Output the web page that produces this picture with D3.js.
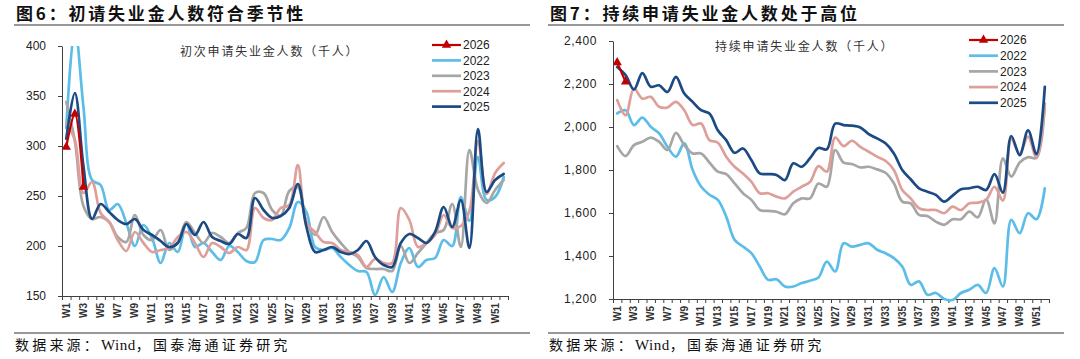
<!DOCTYPE html>
<html><head><meta charset="utf-8">
<script src="https://cdn.jsdelivr.net/npm/d3@7"></script>
<style>
body{margin:0;background:#fff}
svg{display:block}
</style>
</head><body>
<svg id="c" width="1080" height="359"></svg>
<script>
// ---------- DATA ----------
const weeks = d3.range(1, 53).map(i => "W" + i);
const weekTickLabels = weeks.filter((w, i) => i % 2 === 0);
const seriesNames = ["2026", "2022", "2023", "2024", "2025"];

// Chart 1: initial claims (thousand)
const initial2022 = [318,418,339,266,261,236,242,223,200,221,208,183,203,194,223,199,203,194,186,200,194,185,184,206,207,206,218,244,234,199,196,198,189,181,175,174,151,169,154,183,198,179,186,188,206,200,249,225,289,246,249,269];
const initial2023 = [344,305,240,227,229,224,209,204,231,211,206,216,196,204,224,213,203,213,209,203,213,218,253,253,236,230,255,259,224,211,229,214,203,194,189,178,177,177,175,200,183,193,203,213,216,242,199,296,256,243,256,266];
const initial2024 = [323,306,253,264,233,224,206,195,214,203,194,196,198,209,214,203,189,203,199,193,199,196,238,228,226,238,241,281,223,214,204,203,196,194,191,179,187,183,183,238,226,199,203,211,231,218,220,235,305,252,273,283];
const initial2025 = [307,353,280,227,242,234,226,222,227,216,211,205,199,203,222,211,224,209,205,202,212,208,248,236,228,230,238,262,219,194,196,199,194,192,196,205,189,181,179,203,212,208,203,214,239,219,246,198,317,254,266,272];
const initial2026 = [299,332,259];
const initialTicks = [150,200,250,300,350,400];

// Chart 2: continuing claims (thousand)
const cont2022 = [2063,2078,2009,2044,2001,1970,1908,1862,1924,1800,1723,1685,1661,1583,1475,1444,1413,1351,1289,1292,1258,1258,1274,1285,1300,1374,1328,1459,1444,1452,1459,1429,1413,1390,1351,1266,1282,1220,1228,1200,1195,1228,1243,1266,1228,1344,1258,1568,1506,1599,1571,1715];
const cont2023 = [1911,1865,1916,1931,1951,1931,1893,1973,1916,1877,1877,1835,1792,1781,1738,1692,1661,1614,1610,1606,1594,1645,1668,1668,1737,1722,1893,1834,1828,1812,1815,1803,1787,1738,1653,1645,1591,1586,1560,1545,1571,1571,1606,1580,1664,1552,1854,1769,1835,1860,1856,2109];
const cont2024 = [2125,2055,2179,2132,2140,2094,2091,2117,2078,2009,2016,1939,1927,1862,1815,1784,1746,1692,1692,1676,1668,1699,1722,1745,1818,1792,1951,1911,1936,1908,1885,1862,1843,1800,1707,1668,1622,1614,1614,1599,1630,1614,1645,1648,1661,1722,1658,1945,1877,1955,1858,2100];
const cont2025 = [2279,2241,2174,2251,2187,2194,2163,2233,2156,2117,2078,2063,1985,1939,1880,1900,1846,1784,1781,1777,1753,1831,1815,1855,1902,1896,2016,2009,2006,1998,1967,1947,1924,1877,1800,1757,1715,1699,1684,1653,1681,1710,1715,1722,1707,1781,1695,1958,1869,1985,1874,2187];
const cont2026 = [2300,2210];
const contTicks = [1200,1400,1600,1800,2000,2200,2400];

// ---------- STYLE ----------
const colors = {"2026":"#C00000","2022":"#5BBDE8","2023":"#A6A6A6","2024":"#DE9F9A","2025":"#1C4A84"};
const axisColor = "#404040";
const cjk = "'Noto Sans CJK SC','Noto Sans',sans-serif";
const latin = "'Liberation Sans',Arial,sans-serif";

const svg = d3.select("#c");

function panel(o) {
  const g = svg.append("g");
  const x = d3.scaleBand().domain(weeks).range([o.x0, o.x1]);
  const xl = d3.scaleLinear().domain([0, weeks.length]).range([o.x0, o.x1]);
  const y = d3.scaleLinear().domain(o.domain).range([o.y1, o.y0]);

  // title + rules
  g.append("text").attr("x", o.tx).attr("y", 20).text(o.title)
    .style("font-family", cjk).style("font-weight", 700).style("font-size", "17px")
    .style("letter-spacing", "2.8px").attr("fill", "#111");
  g.append("line").attr("x1", o.tx - 2).attr("x2", o.tx + 514).attr("y1", 25).attr("y2", 25)
    .attr("stroke", "#333").attr("stroke-width", 1.2);
  g.append("line").attr("x1", o.tx - 2).attr("x2", o.tx + 514).attr("y1", 333).attr("y2", 333)
    .attr("stroke", "#333").attr("stroke-width", 1.2);
  const src = g.append("text").attr("x", o.tx - 1).attr("y", 350)
    .style("font-family", cjk).style("font-size", "14px").style("letter-spacing", "3.2px").attr("fill", "#111");
  src.append("tspan").text("数据来源：");
  src.append("tspan").text("Wind").style("font-family", "'Liberation Serif',serif").style("font-size", "15px").style("letter-spacing", "0.5px");
  src.append("tspan").text("，国泰海通证券研究");

  // inner title
  g.append("text").attr("x", o.ix).attr("y", o.iy).text(o.inner)
    .style("font-family", cjk).style("font-size", "12px").style("letter-spacing", "1.8px").attr("fill", "#333");

  // y axis
  const ya = g.append("g").attr("transform", `translate(${o.x0},0)`)
    .call(d3.axisLeft(y).tickValues(o.ticks).tickFormat(o.fmt).tickSize(4).tickPadding(12).tickSizeOuter(0));
  ya.selectAll("text").style("font-family", latin).style("font-size", "12px").attr("fill", "#222")
    .style("letter-spacing", o.lsp || "0px");
  ya.selectAll("line,path").attr("stroke", axisColor);

  // x axis: boundary ticks
  const xt = g.append("g").attr("transform", `translate(0,${o.y1})`)
    .call(d3.axisBottom(xl).tickValues(d3.range(0, weeks.length + 1)).tickFormat("").tickSize(4).tickSizeOuter(0));
  xt.selectAll("line,path").attr("stroke", axisColor);
  // x axis labels
  const xa = g.append("g").attr("transform", `translate(0,${o.y1})`)
    .call(d3.axisBottom(x).tickValues(weekTickLabels).tickSize(0).tickPadding(0));
  xa.select(".domain").remove();
  xa.selectAll("text").attr("transform", "rotate(-90)").attr("x", -7).attr("y", 0).attr("dy", "0.34em")
    .attr("text-anchor", "end").style("font-family", latin).style("font-size", "10px")
    .style("font-weight", 700).attr("fill", "#333");

  // clip
  const cid = "clip" + o.id;
  svg.append("clipPath").attr("id", cid).append("rect")
    .attr("x", o.x0 + 0.5).attr("y", o.y0).attr("width", o.x1 - o.x0).attr("height", o.y1 - o.y0 + 3);

  const line = d3.line().x((d, i) => x(weeks[i]) + x.bandwidth() / 2).y(d => y(d))
    .curve(d3.curveCatmullRom.alpha(0.5));
  const lg = g.append("g").attr("clip-path", `url(#${cid})`);
  ["2022", "2023", "2024", "2025", "2026"].forEach(k => {
    lg.append("path").datum(o.data[k]).attr("d", line).attr("fill", "none")
      .attr("stroke", colors[k]).attr("stroke-width", k === "2026" ? 2.2 : 2.7)
      .attr("stroke-linejoin", "round").attr("stroke-linecap", "round");
  });
  const tri = d3.symbol().type(d3.symbolTriangle).size(38);
  lg.selectAll(".mk").data(o.data["2026"]).join("path")
    .attr("transform", (d, i) => `translate(${x(weeks[i]) + x.bandwidth() / 2},${y(d)})`)
    .attr("d", tri).attr("fill", colors["2026"]);

  // legend
  const leg = g.append("g");
  seriesNames.forEach((k, i) => {
    const yy = o.ly + i * o.lstep;
    leg.append("line").attr("x1", o.lx).attr("x2", o.lx + 29).attr("y1", yy).attr("y2", yy)
      .attr("stroke", colors[k]).attr("stroke-width", k === "2026" ? 2.2 : 2.7);
    if (k === "2026") leg.append("path").attr("transform", `translate(${o.lx + 14.5},${yy})`).attr("d", tri).attr("fill", colors[k]);
    leg.append("text").attr("x", o.lx + 31).attr("y", yy).attr("dy", "0.36em").text(k)
      .style("font-family", latin).style("font-size", "12px").attr("fill", "#222");
  });
}

panel({
  id: 1, x0: 62, x1: 508, y0: 46, y1: 296, tx: 16,
  domain: [150, 400], ticks: initialTicks, fmt: d3.format("d"),
  title: "图6：初请失业金人数符合季节性",
  inner: "初次申请失业金人数（千人）", ix: 180, iy: 56,
  data: {"2022": initial2022, "2023": initial2023, "2024": initial2024, "2025": initial2025, "2026": initial2026},
  lx: 432, ly: 45, lstep: 15.4
});
panel({
  id: 2, x0: 613, x1: 1049, y0: 41, y1: 299, tx: 550,
  domain: [1200, 2400], ticks: contTicks, fmt: d3.format(","), lsp: "0.6px",
  title: "图7：持续申请失业金人数处于高位",
  inner: "持续申请失业金人数（千人）", ix: 715, iy: 51,
  data: {"2022": cont2022, "2023": cont2023, "2024": cont2024, "2025": cont2025, "2026": cont2026},
  lx: 969, ly: 40, lstep: 15.7
});
</script>
</body></html>
